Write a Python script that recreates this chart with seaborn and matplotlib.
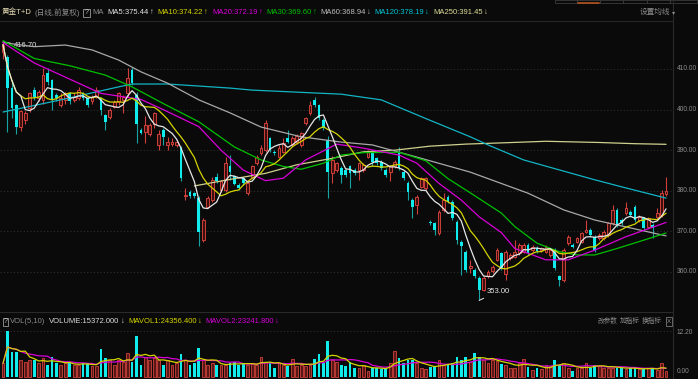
import numpy as np
import pandas as pd
import seaborn as sns
import matplotlib.pyplot as plt
from matplotlib.patches import Rectangle
from matplotlib.lines import Line2D
import matplotlib.transforms as mtransforms

# Daily candles (left to right)
opens = [414.2, 413.0, 405.2, 401.1, 395.8, 397.4, 400.3, 404.8, 402.8, 402.4,
         409.0, 407.3, 403.6, 401.1, 402.4, 404.0, 402.4, 402.8, 404.0, 402.8,
         402.0, 403.2, 402.8, 398.7, 398.3, 400.7, 401.9, 402.4, 404.0, 409.7,
         403.6, 395.0, 394.6, 394.1, 396.5, 391.3, 395.0, 391.3, 391.5, 391.3,
         390.5, 378.6, 379.8, 379.4, 378.2, 367.9, 376.1, 377.7, 383.5, 380.2,
         380.2, 386.0, 383.6, 381.4, 383.1, 379.4, 383.5, 386.8, 389.2, 390.0,
         392.9, 389.6, 388.4, 389.6, 392.9, 391.5, 392.0, 391.3, 396.6, 399.1,
         402.4, 401.1, 397.5, 392.5, 384.3, 385.1, 385.5, 385.1, 386.0, 385.1,
         385.1, 385.1, 388.4, 389.2, 388.0, 387.2, 385.1, 384.7, 386.0, 389.2,
         384.7, 381.8, 377.7, 376.5, 381.0, 380.6, 372.4, 372.0, 369.5, 375.3,
         378.5, 377.3, 372.4, 367.5, 365.0, 361.0, 360.5, 358.4, 355.6, 359.0,
         360.2, 363.0, 364.6, 359.5, 363.4, 363.8, 364.6, 365.0, 366.7, 365.4,
         366.0, 365.4, 365.0, 364.2, 365.4, 358.9, 358.0, 367.1, 366.7, 367.5,
         367.5, 369.9, 370.4, 368.7, 368.3, 368.3, 369.1, 372.0, 375.3, 372.8,
         374.5, 374.9, 376.1, 372.8, 373.2, 371.2, 371.6, 373.6, 374.1, 379.2]
highs = [416.7, 413.5, 407.3, 401.5, 400.0, 399.6, 404.4, 405.5, 404.8, 410.2,
         410.2, 407.5, 404.0, 404.0, 404.4, 404.4, 404.0, 405.5, 404.4, 403.2,
         403.6, 405.5, 403.2, 399.0, 400.3, 402.4, 404.4, 403.6, 410.2, 410.5,
         404.4, 395.4, 398.5, 396.6, 399.5, 395.0, 395.4, 393.3, 392.9, 392.5,
         391.0, 380.6, 380.2, 379.8, 378.6, 373.2, 378.6, 383.5, 384.3, 382.7,
         388.4, 388.8, 384.0, 381.8, 383.5, 382.3, 386.4, 388.8, 391.3, 397.5,
         393.3, 390.0, 391.3, 393.0, 395.0, 393.5, 394.0, 394.6, 398.3, 402.0,
         403.0, 401.5, 397.9, 393.5, 388.5, 387.2, 386.0, 385.5, 386.4, 385.5,
         387.2, 386.8, 390.0, 390.0, 388.4, 387.6, 385.5, 386.4, 387.6, 390.9,
         385.1, 382.3, 378.2, 378.9, 383.5, 383.5, 372.8, 372.4, 375.3, 379.4,
         378.9, 377.7, 372.8, 367.9, 365.4, 363.0, 360.9, 358.9, 358.9, 360.5,
         361.7, 365.8, 365.0, 365.4, 364.6, 367.9, 367.1, 367.1, 367.1, 366.7,
         366.4, 366.2, 366.7, 365.8, 365.8, 359.3, 365.8, 369.1, 367.1, 368.7,
         369.9, 372.8, 370.8, 369.1, 369.5, 370.4, 372.4, 376.5, 375.7, 373.2,
         377.3, 375.3, 376.5, 374.1, 373.6, 373.6, 372.0, 375.7, 380.2, 383.5]
lows = [412.5, 394.6, 398.0, 393.9, 394.8, 396.5, 399.5, 402.4, 402.0, 401.5,
        406.0, 399.9, 402.0, 400.7, 401.5, 401.5, 401.9, 402.4, 402.4, 400.7,
        401.5, 402.8, 398.7, 395.0, 397.8, 400.3, 401.1, 399.1, 403.2, 406.0,
        391.7, 393.9, 391.7, 393.5, 395.5, 390.0, 391.3, 390.0, 391.0, 390.8,
        382.5, 377.7, 378.2, 378.2, 366.5, 367.5, 375.7, 377.3, 382.0, 379.8,
        379.8, 382.7, 381.4, 380.2, 381.4, 379.0, 383.1, 386.4, 388.8, 389.6,
        389.6, 388.8, 388.0, 389.2, 391.7, 391.0, 391.5, 390.8, 396.2, 398.7,
        400.7, 397.5, 395.0, 378.2, 382.0, 384.7, 381.8, 383.5, 380.6, 383.9,
        382.7, 384.7, 388.0, 386.0, 386.4, 385.1, 383.5, 382.3, 385.5, 385.1,
        382.7, 377.7, 373.2, 374.4, 380.6, 380.2, 371.6, 369.1, 369.1, 374.9,
        376.9, 372.8, 367.0, 359.3, 360.1, 359.7, 358.4, 353.0, 355.2, 358.6,
        359.7, 362.6, 360.5, 358.0, 363.0, 363.4, 364.2, 364.6, 364.2, 365.0,
        364.8, 365.0, 364.6, 363.8, 360.5, 356.5, 357.6, 366.7, 365.8, 367.1,
        367.1, 369.5, 368.7, 365.0, 367.9, 367.9, 368.7, 371.6, 371.2, 371.6,
        374.1, 373.6, 372.4, 372.4, 370.4, 370.8, 368.3, 373.2, 373.6, 378.8]
closes = [416.0, 405.2, 400.3, 395.8, 399.6, 399.1, 404.0, 403.2, 404.4, 408.5,
          406.9, 402.4, 402.8, 402.8, 404.0, 402.0, 403.2, 404.8, 402.8, 401.1,
          403.2, 404.8, 399.9, 397.0, 399.9, 401.9, 404.0, 403.2, 407.7, 406.5,
          396.4, 394.3, 396.2, 396.2, 399.1, 394.1, 393.3, 392.1, 392.1, 392.1,
          383.1, 379.0, 378.6, 378.6, 369.9, 372.8, 378.2, 382.7, 382.5, 382.3,
          386.8, 384.7, 381.7, 380.6, 381.8, 381.8, 386.0, 388.4, 390.5, 396.6,
          390.0, 389.2, 390.5, 391.7, 392.1, 393.0, 393.5, 394.2, 397.9, 401.1,
          401.1, 397.9, 395.4, 384.7, 387.6, 386.8, 383.9, 383.9, 384.3, 384.3,
          386.8, 386.4, 389.6, 387.2, 386.8, 385.5, 383.9, 386.0, 387.2, 385.5,
          383.1, 379.8, 376.1, 378.5, 383.1, 383.1, 372.0, 370.3, 374.9, 377.7,
          377.3, 373.2, 367.9, 366.5, 360.5, 361.6, 358.9, 355.6, 358.4, 360.0,
          361.3, 365.4, 360.9, 365.0, 364.2, 365.0, 366.7, 366.7, 364.6, 366.2,
          365.2, 365.8, 366.2, 365.4, 360.9, 358.0, 365.4, 368.7, 366.2, 368.3,
          369.5, 370.4, 369.1, 365.4, 369.1, 369.9, 372.0, 375.3, 371.6, 372.0,
          375.7, 374.1, 372.8, 373.6, 370.8, 373.2, 370.8, 374.5, 379.4, 379.9]
# volume in units of 10k (axis label 12.20)
volumes = [3.6, 12.2, 6.7, 6.7, 4.5, 4.0, 4.5, 4.5, 3.6, 4.9,
           3.2, 5.2, 3.6, 3.2, 3.6, 3.6, 3.2, 3.2, 3.6, 3.6,
           2.9, 2.9, 7.3, 4.9, 4.5, 3.2, 4.5, 4.0, 6.4, 4.0,
           10.8, 3.2, 5.4, 4.5, 4.9, 4.5, 3.2, 4.5, 3.2, 3.6,
           6.1, 4.5, 3.2, 3.6, 7.6, 4.5, 3.2, 3.6, 3.2, 3.2,
           3.2, 3.6, 4.0, 3.2, 3.6, 3.2, 3.6, 3.2, 5.2, 4.0,
           3.6, 2.5, 3.6, 3.2, 2.9, 4.7, 2.9, 3.2, 2.9, 3.2,
           4.7, 6.1, 3.8, 9.5, 4.5, 4.0, 3.2, 2.9, 4.0, 2.5,
           2.3, 3.2, 1.7, 2.5, 2.3, 2.0, 2.5, 3.8, 6.9, 4.9,
           3.6, 4.5, 4.5, 3.6, 2.5, 2.0, 2.7, 2.9, 4.5, 3.2,
           3.2, 3.6, 5.2, 4.5, 5.2, 4.0, 6.4, 5.2, 4.5, 3.8,
           4.5, 4.3, 3.4, 3.2, 2.5, 2.5, 3.8, 4.7, 2.7, 1.8,
           2.5, 2.0, 3.2, 2.9, 4.5, 3.2, 3.6, 2.5, 1.7, 2.3,
           2.5, 3.6, 2.5, 3.2, 2.9, 2.5, 2.5, 2.5, 2.5, 2.3,
           2.0, 2.3, 2.5, 2.0, 2.0, 2.3, 2.5, 1.8, 3.6, 1.54]

# Longer moving averages (candle index, value)
ma20_idx = [0, 7, 14, 22, 31, 36, 44, 49, 54, 59, 63, 68, 75, 81, 89, 93, 98,
            103, 107, 112, 115, 122, 127, 133, 140, 149]
ma20_val = [416.5, 411.5, 408.0, 404.0, 402.5, 400.0, 395.8, 390.0, 385.1, 382.5,
            383.1, 387.6, 391.5, 390.5, 388.8, 386.8, 381.8, 377.7, 373.6, 369.7,
            365.8, 363.0, 363.0, 365.4, 368.7, 372.2]
ma30_idx = [0, 7, 15, 23, 29, 36, 44, 52, 58, 63, 67, 72, 76, 81, 89, 95, 100,
            105, 112, 115, 120, 125, 129, 133, 138, 143, 149]
ma30_val = [417.0, 412.6, 410.8, 408.5, 405.6, 401.5, 397.0, 390.8, 387.6, 386.0,
            385.3, 386.8, 388.8, 389.4, 389.5, 387.4, 383.0, 379.5, 374.5, 371.2,
            367.1, 365.0, 364.2, 364.2, 365.8, 367.5, 369.6]
ma60_idx = [0, 7, 14, 20, 26, 31, 37, 44, 51, 58, 67, 76, 83, 93, 105, 111, 118,
            126, 133, 140, 149]
ma60_val = [416.5, 415.5, 415.9, 414.7, 412.2, 409.3, 406.5, 402.4, 399.2, 395.7,
            393.3, 392.0, 391.3, 388.3, 384.6, 382.2, 379.4, 375.3, 372.8, 371.1,
            368.9]
ma120_idx = [0, 13, 26, 29, 37, 51, 56, 66, 76, 85, 95, 105, 109, 117, 133, 140, 149]
ma120_val = [399.4, 402.4, 405.6, 406.3, 406.3, 405.3, 404.8, 404.3, 403.8, 402.4,
             397.8, 393.3, 391.3, 387.6, 382.7, 380.7, 378.2]
ma250_idx = [43, 52, 59, 66, 74, 81, 88, 96, 104, 112, 122, 134, 142, 149]
ma250_val = [381.2, 383.0, 384.3, 386.4, 388.0, 389.6, 390.0, 391.0, 391.5, 391.8,
             392.2, 391.9, 391.6, 391.45]

price_ticks = [410, 400, 390, 380, 370, 360]

BG = '#0a0a0a'
RED = '#d0403a'
RED_FILL = '#3c0e0e'
CYAN = '#10ecec'
CYAN_WICK = '#17a3a3'
GRID = '#2e2e2e'
C_MA5 = '#e6e6e6'
C_MA10 = '#d4d400'
C_MA20 = '#d800d8'
C_MA30 = '#00c000'
C_MA60 = '#a8a8a8'
C_MA120 = '#12b4c4'
C_MA250 = '#cfcf8e'
TXT = '#8c8c8c'

sns.set_style('dark', rc={'axes.facecolor': BG, 'figure.facecolor': BG,
                          'axes.edgecolor': BG, 'grid.color': GRID})
plt.rcParams['font.family'] = ['Liberation Sans', 'Noto Sans CJK SC', 'DejaVu Sans']

df = pd.DataFrame({'open': opens, 'high': highs, 'low': lows,
                   'close': closes, 'vol': volumes})
df['up'] = df['close'] >= df['open']
df['ma5'] = df['close'].rolling(5, min_periods=1).mean()
df['ma10'] = df['close'].rolling(10, min_periods=1).mean()
df['mavol1'] = df['vol'].rolling(5, min_periods=1).mean()
df['mavol2'] = df['vol'].rolling(10, min_periods=1).mean()
idx = np.arange(len(df))

W, H = 698, 379
fig = plt.figure(figsize=(W / 100, H / 100), dpi=100, facecolor=BG)
renderer = fig.canvas.get_renderer()


def fx(x):
    return x / W


def fy(y):
    return 1 - y / H


def put(x, y, s, color, size, after=0, **kw):
    # place text at x, but never on top of the previous one
    t = fig.text(fx(max(x, after)), fy(y), s, color=color, fontsize=size,
                 va='center', ha='left', **kw)
    return t.get_window_extent(renderer).x1


ax = fig.add_axes([0, fy(312), fx(673), (312 - 22) / H])
axv = fig.add_axes([0, 0, fx(673), (379 - 312) / H])

xl = (-3 / 4.45, (673 - 3) / 4.45)
for a in (ax, axv):
    a.set_facecolor(BG)
    a.set_xlim(*xl)
    a.tick_params(left=False, bottom=False, labelleft=False, labelbottom=False)
    for s in a.spines.values():
        s.set_visible(False)

ax.set_ylim(410 - (312 - 69) / 4.06, 410 + (69 - 22) / 4.06)
axv.set_ylim(-2 / 3.795, 12.2 + (330.7 - 312) / 3.795)

# grid
ax.set_yticks(price_ticks)
ax.set_xticks([])
ax.grid(axis='y', color=GRID, linestyle=(0, (1, 2)), linewidth=0.8)
axv.set_yticks([12.2])
axv.set_xticks([])
axv.grid(axis='y', color=GRID, linestyle=(0, (1, 2)), linewidth=0.8)

# candles
up = df[df['up']]
dn = df[~df['up']]
ax.vlines(up.index, up['low'], up['high'], color=RED, linewidth=0.8, zorder=2)
ax.vlines(dn.index, dn['low'], dn['high'], color=CYAN_WICK, linewidth=0.8, zorder=2)
ax.bar(up.index, (up['close'] - up['open']).clip(lower=0.2), bottom=up['open'],
       width=0.62, facecolor=RED_FILL, edgecolor=RED, linewidth=0.7, zorder=3)
ax.bar(dn.index, (dn['open'] - dn['close']).clip(lower=0.2), bottom=dn['close'],
       width=0.62, color=CYAN, linewidth=0, zorder=3)

# moving averages
sns.lineplot(x=ma250_idx, y=ma250_val, ax=ax, color=C_MA250, linewidth=0.9, zorder=4)
sns.lineplot(x=ma120_idx, y=ma120_val, ax=ax, color=C_MA120, linewidth=0.9, zorder=4)
sns.lineplot(x=ma60_idx, y=ma60_val, ax=ax, color=C_MA60, linewidth=0.9, zorder=4)
sns.lineplot(x=ma30_idx, y=ma30_val, ax=ax, color=C_MA30, linewidth=0.9, zorder=4)
sns.lineplot(x=ma20_idx, y=ma20_val, ax=ax, color=C_MA20, linewidth=0.9, zorder=4)
sns.lineplot(x=idx, y=df['ma10'], ax=ax, color=C_MA10, linewidth=0.9, zorder=4)
sns.lineplot(x=idx, y=df['ma5'], ax=ax, color=C_MA5, linewidth=0.9, zorder=4)

# extreme labels
hi_i = int(df['high'].idxmax())
lo_i = int(df['low'].idxmin())
ax.annotate(f"{df['high'].max():.2f}", xy=(hi_i, df['high'].max()),
            xytext=(2.4, 410 + (69 - 46) / 4.06),
            color='#e6e6e6', fontsize=5.5, va='center', ha='left',
            arrowprops=dict(arrowstyle='-', color='#e6e6e6', lw=0.7, shrinkA=0, shrinkB=0))
ax.annotate(f"{df['low'].min():.2f}", xy=(lo_i, df['low'].min()),
            xytext=(lo_i + 1.6, df['low'].min() + 2.2),
            color='#e6e6e6', fontsize=5.5, va='center', ha='left',
            arrowprops=dict(arrowstyle='-', color='#e6e6e6', lw=0.7, shrinkA=0, shrinkB=0))

# volume bars
axv.bar(up.index, up['vol'], width=0.62, facecolor='#581818', edgecolor=RED,
        linewidth=0.6, zorder=3)
axv.bar(dn.index, dn['vol'], width=0.62, color=CYAN, linewidth=0, zorder=3)
sns.lineplot(x=idx, y=df['mavol2'], ax=axv, color=C_MA20, linewidth=0.9, zorder=4)
sns.lineplot(x=idx, y=df['mavol1'], ax=axv, color=C_MA10, linewidth=0.9, zorder=4)
for a in (ax, axv):
    a.set_xlabel('')
    a.set_ylabel('')

# right axis labels
tr = mtransforms.blended_transform_factory(ax.transAxes, ax.transData)
for p in price_ticks:
    ax.text(677 / 673, p, f'{p:.2f}', transform=tr, color=TXT, fontsize=4.8,
            va='center', ha='left', clip_on=False)
trv = mtransforms.blended_transform_factory(axv.transAxes, axv.transData)
axv.text(677 / 673, 11.6, '12.20', transform=trv, color=TXT, fontsize=4.8,
         va='center', ha='left', clip_on=False)
axv.text(677 / 673, 1.4, '0.00', transform=trv, color=TXT, fontsize=4.8,
         va='center', ha='left', clip_on=False)

# frame lines
fig.add_artist(Line2D([fx(673), fx(673)], [0, 1], color='#2a2a2a', lw=0.8))
fig.add_artist(Line2D([0, fx(673)], [fy(311.5), fy(311.5)], color='#2a2a2a', lw=0.8))
fig.add_artist(Line2D([0, fx(673)], [fy(21), fy(21)], color='#262626', lw=0.8))
for x0, x1 in [(555, 577), (577, 600), (600, 623), (623, 647), (647, 670), (670, 697)]:
    fig.add_artist(Rectangle((fx(x0), fy(3)), fx(x1 - x0), 3 / H, facecolor='none',
                             edgecolor='#3a3a3a', lw=0.6))
fig.add_artist(Line2D([fx(578), fx(599)], [fy(3), fy(3)], color='#b4521e', lw=1.2))

# header
fs = 5.5
end = put(2, 12.5, '黄金T+D', '#e6dcb4', fs)
end = put(30, 12.5, '(日线,前复权)', TXT, fs, end + 3)
bx = end + 3
fig.add_artist(Rectangle((fx(bx), fy(16.5)), fx(6.5), 8 / H, facecolor='none',
                         edgecolor='#9a9a9a', lw=0.6))
fig.text(fx(bx + 3.25), fy(12.5), '?', color='#d0d0d0', fontsize=5, va='center', ha='center')
end = put(74, 12.5, 'MA', TXT, fs, bx + 9)
header = [(87, 'MA5:375.44', '↑', C_MA5),
          (127, 'MA10:374.22', '↑', C_MA10),
          (171, 'MA20:372.19', '↑', C_MA20),
          (215, 'MA30:369.60', '↑', C_MA30),
          (259, 'MA60:368.94', '↓', '#bdbdbd'),
          (303, 'MA120:378.19', '↓', '#00c4d4'),
          (350, 'MA250:391.45', '↓', '#dcdc96')]
for x0, label, arr, c in header:
    end = put(x0, 12.5, label, c, fs, end + 4)
    end = put(0, 12.5, arr, c, fs, end + 1)
end = put(640, 12.5, '设置均线', TXT, fs)
put(0, 12.5, '▾', TXT, 4.5, end + 1)

# volume header
fig.add_artist(Rectangle((fx(2.5), fy(325.7)), fx(5.5), 8 / H, facecolor='none',
                         edgecolor='#9a9a9a', lw=0.6))
fig.text(fx(5.2), fy(321.7), '?', color='#d0d0d0', fontsize=5, va='center', ha='center')
end = put(10, 321.7, 'VOL(5,10)', TXT, fs)
vheader = [(40, 'VOLUME:15372.000', '#dcdcdc'),
           (103, 'MAVOL1:24356.400', C_MA10),
           (165, 'MAVOL2:23241.800', C_MA20)]
for x0, label, c in vheader:
    end = put(x0, 321.7, label, c, fs, end + 4)
    end = put(0, 321.7, '↓', c, fs, end + 1)
end = 0
for x0, label in [(598, '改参数'), (620, '加指标'), (642, '换指标')]:
    end = put(x0, 321.7, label, TXT, 4.8, end + 1)
fig.add_artist(Rectangle((fx(665.5), fy(326)), fx(6.5), 9 / H, facecolor='none',
                         edgecolor='#7a7a7a', lw=0.6))
fig.text(fx(668.8), fy(321.7), 'X', color=TXT, fontsize=4.5, va='center', ha='center')

fig.savefig('out.png', dpi=100, facecolor=BG)
